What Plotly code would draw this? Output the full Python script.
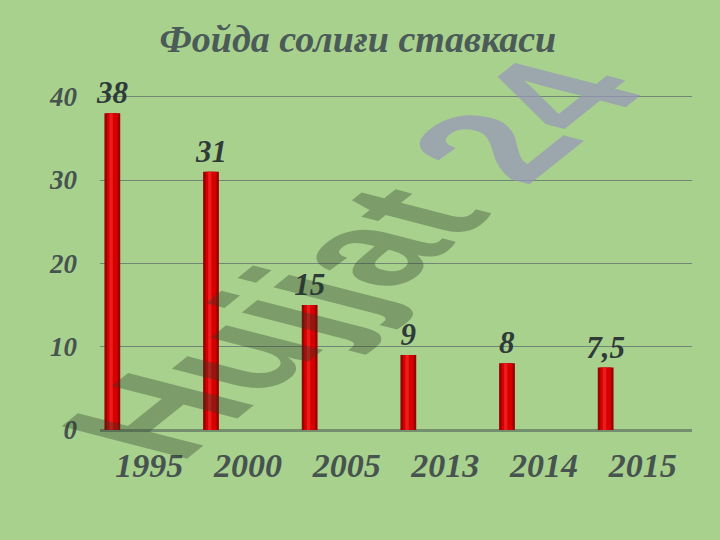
import plotly.graph_objects as go

years = ["1995", "2000", "2005", "2013", "2014", "2015"]
rates = [38, 31, 15, 9, 8, 7.5]
rate_labels = ["38", "31", "15", "9", "8", "7,5"]
y_ticks = [0, 10, 20, 30, 40]

title_text = "Фойда солиғи ставкаси"
watermark_a = "Hujjat"
watermark_b = "24"
BG = "#a9d18e"
TXT = "#46534f"
FONT = "Liberation Serif"

fig = go.Figure()
# cylinder body (dark edges)
fig.add_trace(go.Bar(x=years, y=rates, width=0.16, offset=-0.455,
                     marker=dict(color="#9a0000", line=dict(width=0)),
                     text=rate_labels, textposition="outside", cliponaxis=False,
                     constraintext="none",
                     textfont=dict(family=FONT, size=31, color="#2f3b39", weight="bold", style="italic"),
                     hoverinfo="skip"))
# bright core
fig.add_trace(go.Bar(x=years, y=rates, width=0.11, offset=-0.43,
                     marker=dict(color="#d60000", line=dict(width=0)), hoverinfo="skip"))
# highlight
fig.add_trace(go.Bar(x=years, y=rates, width=0.035, offset=-0.405,
                     marker=dict(color="#ec1c1c", line=dict(width=0)), hoverinfo="skip"))

fig.update_layout(
    width=720, height=540,
    paper_bgcolor=BG, plot_bgcolor=BG,
    barmode="overlay", showlegend=False,
    margin=dict(l=100, r=28, t=95, b=110),
    title=dict(text=title_text, x=0.497, xanchor="center", y=0.928, yanchor="middle",
               font=dict(family=FONT, size=38, color="#4b5b58", weight="bold", style="italic")),
    xaxis=dict(type="category", showgrid=False, zeroline=False, showline=False, ticks="",
               tickfont=dict(family=FONT, size=34, color=TXT, weight="bold", style="italic"),
               ticklabelstandoff=12),
    yaxis=dict(range=[0, 40.2], tickvals=y_ticks, showgrid=True,
               gridcolor="rgba(95,110,110,0.75)", gridwidth=1,
               zeroline=True, zerolinecolor="rgba(110,135,105,0.9)", zerolinewidth=3,
               showline=False, ticks="",
               tickfont=dict(family=FONT, size=27, color=TXT, weight="bold", style="italic"),
               ticklabelstandoff=22),
)

# watermark (skewed afterwards by post_script)
fig.add_annotation(
    text=f'<span style="color:rgba(40,60,40,0.35)">{watermark_a}</span> '
         f'<span style="color:rgba(149,150,186,0.72)">{watermark_b}</span>',
    xref="paper", yref="paper", x=0.5, y=0.5,
    xanchor="center", yanchor="middle", showarrow=False, textangle=0,
    font=dict(family="Liberation Sans", size=152, weight="bold"))

post = """
document.body.style.margin = '0';
var gd = document.getElementById('{plot_id}');
var g = gd.querySelector('.annotation-text-g');
if (g) {
  g.setAttribute('transform', '');
  var svgR = g.ownerSVGElement.getBoundingClientRect();
  var r = g.getBoundingClientRect();
  var cx = r.left + r.width / 2 - svgR.left;
  var cy = r.top + r.height / 2 - svgR.top;
  var X = 352, Y = 259;
  var a = 0.745, b = -0.597, c = 1.2, d = 0.31;
  g.setAttribute('transform', 'translate(' + X + ',' + Y + ') matrix(' + a + ',' + b + ',' + c + ',' + d + ',0,0) translate(' + (-cx) + ',' + (-cy) + ')');
}
"""

fig.write_html("out.html", post_script=post, config={"displayModeBar": False})
